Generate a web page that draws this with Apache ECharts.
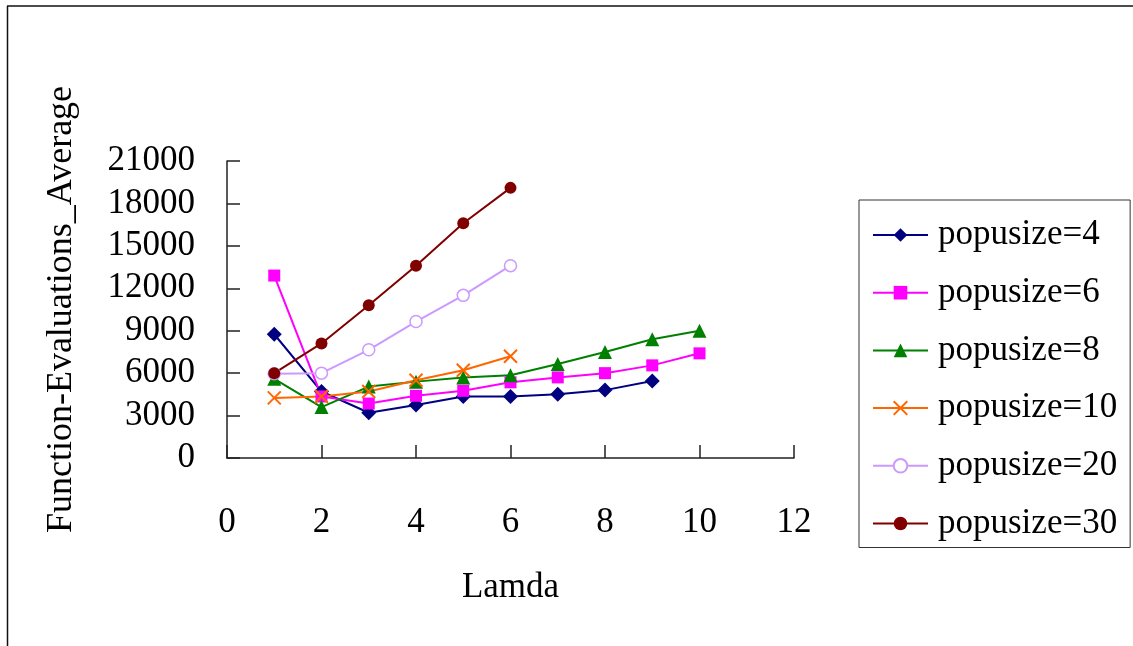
<!DOCTYPE html>
<html>
<head>
<meta charset="utf-8">
<title>Function-Evaluations_Average vs Lamda</title>
<script src="https://cdn.jsdelivr.net/npm/echarts@6/dist/echarts.min.js"></script>
<style>
  html, body { margin: 0; padding: 0; background: #ffffff; }
  #chart { width: 1133px; height: 646px; }
</style>
</head>
<body>
<div id="chart"></div>
<script>
// Lamda values on the x axis
const lamda = [1, 2, 3, 4, 5, 6, 7, 8, 9, 10];

// Average number of function evaluations per population size
const popusize4  = [8750, 4700, 3200, 3750, 4350, 4350, 4500, 4800, 5450];
const popusize6  = [12900, 4350, 3850, 4400, 4750, 5350, 5700, 6000, 6550, 7400];
const popusize8  = [5600, 3600, 5050, 5400, 5700, 5850, 6650, 7500, 8400, 9000];
const popusize10 = [4250, 4350, 4700, 5500, 6200, 7200];
const popusize20 = [5950, 6000, 7650, 9650, 11500, 13600];
const popusize30 = [6000, 8100, 10800, 13600, 16600, 19100];

const seriesNames = ['popusize=4', 'popusize=6', 'popusize=8', 'popusize=10', 'popusize=20', 'popusize=30'];

// Axis ticks
const xTicks = [0, 2, 4, 6, 8, 10, 12];
const yTicks = [0, 3000, 6000, 9000, 12000, 15000, 18000, 21000];

const FONT = '"Liberation Serif", "DejaVu Serif", serif';
const crossPath = 'path://M0,0L10,10M10,0L0,10';

function pairs(values) {
  return values.map((v, i) => [lamda[i], v]);
}

function lineSeries(name, values, color, symbol, size, itemStyle) {
  return {
    name: name,
    type: 'line',
    data: pairs(values),
    symbol: symbol,
    symbolSize: size,
    showAllSymbol: true,
    lineStyle: { color: color, width: 2, type: 'solid' },
    itemStyle: itemStyle || { color: color, borderColor: color, borderWidth: 0 },
    emphasis: { disabled: true },
    animation: false
  };
}

const chart = echarts.init(document.getElementById('chart'), null, { renderer: 'canvas' });

chart.setOption({
  backgroundColor: '#ffffff',
  animation: false,
  aria: { enabled: false, decal: { show: false } },
  textStyle: { fontFamily: FONT },
  grid: { left: 227, top: 161, right: 339, bottom: 188, containLabel: false },
  xAxis: {
    type: 'value',
    min: xTicks[0],
    max: xTicks[xTicks.length - 1],
    interval: xTicks[1] - xTicks[0],
    name: 'Lamda',
    nameLocation: 'middle',
    nameGap: 112,
    nameTextStyle: { fontFamily: FONT, fontSize: 35, color: '#000000' },
    axisLine: { show: true, onZero: false, lineStyle: { color: '#222222', width: 1.5 } },
    axisTick: { show: true, inside: true, length: 13, lineStyle: { color: '#222222', width: 1.5 } },
    axisLabel: { fontFamily: FONT, fontSize: 35, color: '#000000', margin: 47 },
    splitLine: { show: false }
  },
  yAxis: {
    type: 'value',
    min: yTicks[0],
    max: yTicks[yTicks.length - 1],
    interval: yTicks[1] - yTicks[0],
    name: 'Function-Evaluations_Average',
    nameLocation: 'middle',
    nameGap: 147,
    nameTextStyle: { fontFamily: FONT, fontSize: 36, color: '#000000' },
    axisLine: { show: true, lineStyle: { color: '#222222', width: 1.5 } },
    axisTick: { show: true, inside: true, length: 13, lineStyle: { color: '#222222', width: 1.5 } },
    axisLabel: {
      fontFamily: FONT, fontSize: 35, color: '#000000', margin: 32,
      formatter: (v) => String(v)
    },
    splitLine: { show: false }
  },
  legend: {
    orient: 'vertical',
    left: 859,
    top: 200,
    padding: [15, 13, 4, 13],
    itemGap: 17.7,
    itemWidth: 55,
    itemHeight: 17,
    borderColor: '#333333',
    borderWidth: 1,
    data: seriesNames,
    textStyle: { fontFamily: FONT, fontSize: 35, color: '#000000', lineHeight: 40, padding: [0, 0, 0, 5] },
    selectedMode: false
  },
  graphic: [
    { type: 'line', shape: { x1: 7, y1: 6, x2: 1133, y2: 6 }, style: { stroke: '#111111', lineWidth: 1.5 }, silent: true },
    { type: 'line', shape: { x1: 7.5, y1: 6, x2: 7.5, y2: 646 }, style: { stroke: '#111111', lineWidth: 1.5 }, silent: true }
  ],
  series: [
    lineSeries(seriesNames[0], popusize4, '#000080', 'diamond', 15),
    lineSeries(seriesNames[1], popusize6, '#FF00FF', 'rect', 12),
    lineSeries(seriesNames[2], popusize8, '#008000', 'triangle', 14),
    lineSeries(seriesNames[3], popusize10, '#FF6600', crossPath, 13,
      { color: '#FF6600', borderColor: '#FF6600', borderWidth: 2 }),
    lineSeries(seriesNames[4], popusize20, '#CC99FF', 'circle', 12,
      { color: '#ffffff', borderColor: '#CC99FF', borderWidth: 1.5 }),
    lineSeries(seriesNames[5], popusize30, '#800000', 'circle', 12)
  ]
});
</script>
</body>
</html>
